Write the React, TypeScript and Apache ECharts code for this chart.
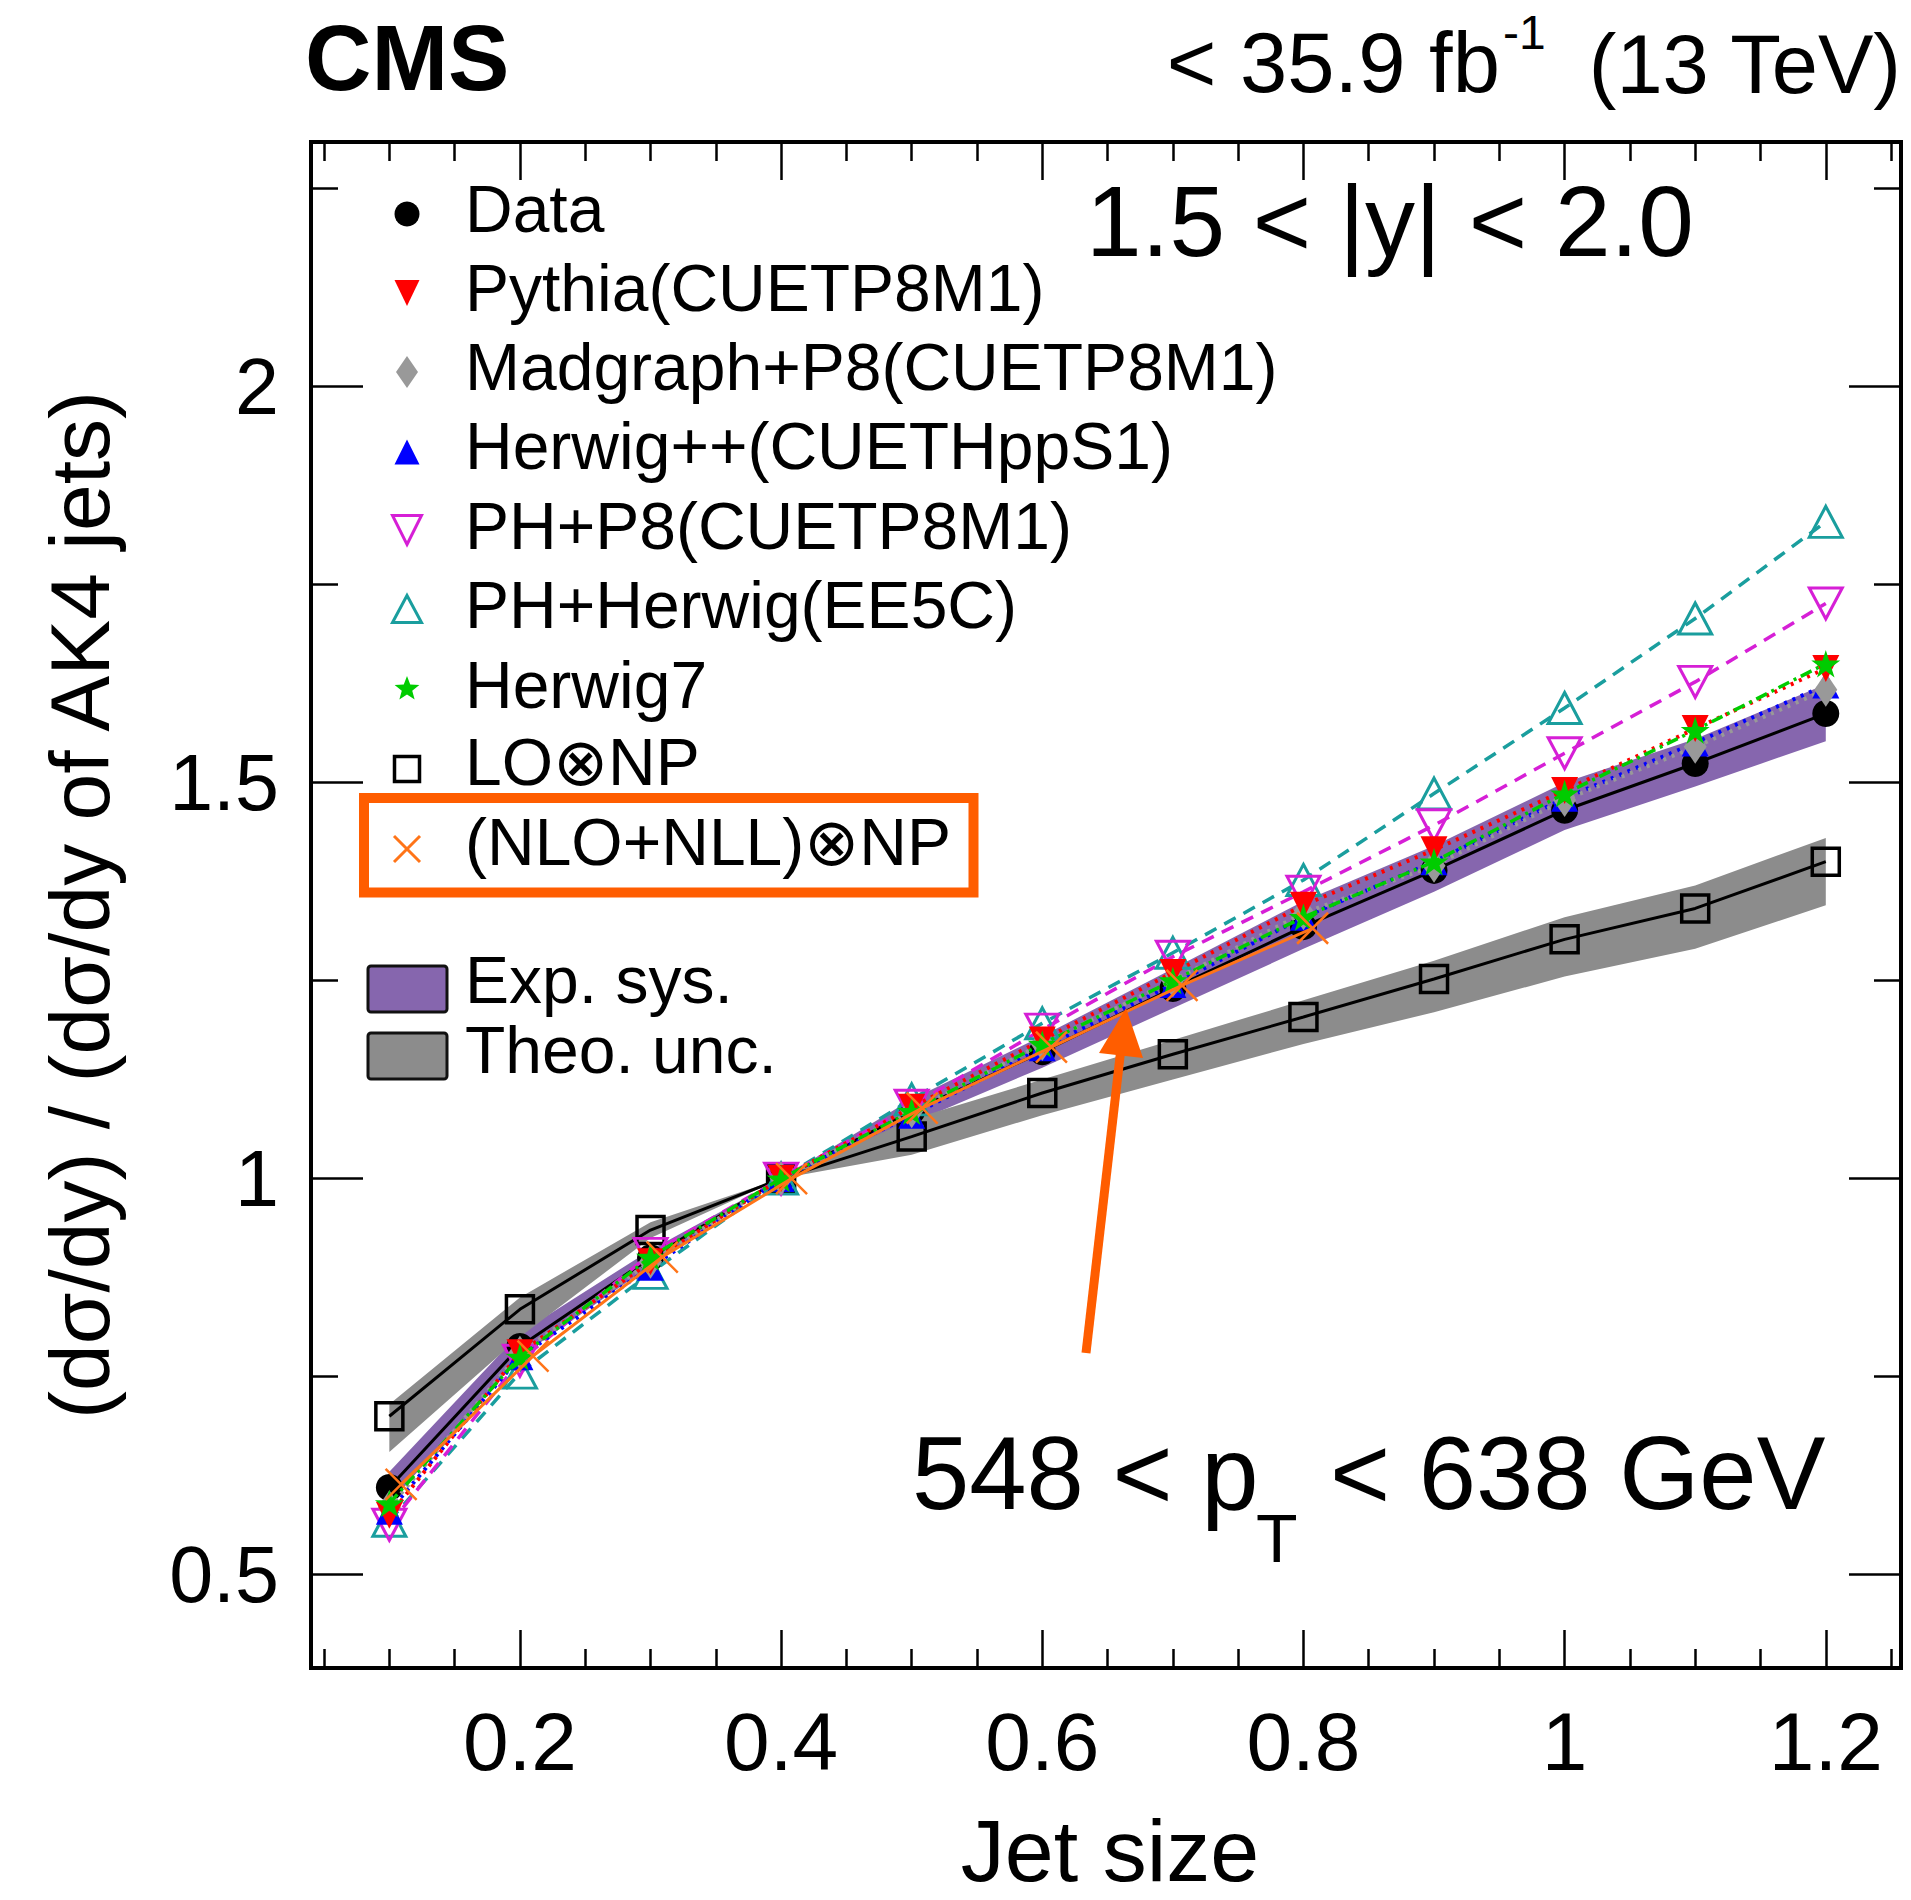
import React, { useEffect, useRef } from 'react';
import * as echarts from 'echarts';

// ---------------- data ----------------
const JET_SIZE = [0.1, 0.2, 0.3, 0.4, 0.5, 0.6, 0.7, 0.8, 0.9, 1.0, 1.1, 1.2];
const DATA = [0.610, 0.788, 0.900, 1.0, 1.085, 1.160, 1.240, 1.318, 1.389, 1.465, 1.524, 1.587];
const PYTHIA = [0.575, 0.780, 0.895, 1.0, 1.090, 1.175, 1.260, 1.345, 1.415, 1.490, 1.568, 1.644];
const MADGRAPH = [0.585, 0.780, 0.895, 1.0, 1.085, 1.170, 1.250, 1.335, 1.395, 1.478, 1.545, 1.617];
const HERWIGPP = [0.580, 0.775, 0.888, 1.0, 1.080, 1.165, 1.245, 1.330, 1.400, 1.480, 1.550, 1.623];
const PH_P8 = [0.563, 0.770, 0.905, 1.0, 1.092, 1.188, 1.280, 1.362, 1.446, 1.537, 1.627, 1.726];
const PH_HERWIG = [0.568, 0.755, 0.881, 1.0, 1.100, 1.196, 1.285, 1.377, 1.486, 1.594, 1.707, 1.829];
const HERWIG7 = [0.590, 0.775, 0.901, 1.0, 1.085, 1.170, 1.250, 1.330, 1.400, 1.486, 1.566, 1.650];
const LO_NP = [0.700, 0.835, 0.935, 1.0, 1.053, 1.108, 1.157, 1.204, 1.252, 1.302, 1.341, 1.400];
const NLO_X = [0.109, 0.21, 0.309, 0.408, 0.508, 0.607, 0.707, 0.807];
const NLO_NLL = [0.614, 0.776, 0.901, 1.0, 1.089, 1.166, 1.244, 1.316];
const EXP_LOW = [0.590, 0.775, 0.890, 1.0, 1.070, 1.140, 1.215, 1.290, 1.362, 1.440, 1.495, 1.552];
const EXP_HIGH = [0.630, 0.805, 0.910, 1.0, 1.100, 1.180, 1.265, 1.350, 1.420, 1.500, 1.555, 1.624];
const THEO_LOW = [0.655, 0.800, 0.925, 1.0, 1.030, 1.080, 1.125, 1.170, 1.210, 1.255, 1.290, 1.345];
const THEO_HIGH = [0.715, 0.850, 0.945, 1.0, 1.075, 1.125, 1.175, 1.225, 1.275, 1.330, 1.370, 1.430];

const X_MIN = 0.04;
const X_MAX = 1.2576;
const Y_MIN = 0.3822;
const Y_MAX = 2.3085;
const X_MAJOR = [0.2, 0.4, 0.6, 0.8, 1.0, 1.2];
const X_LABELS = ['0.2', '0.4', '0.6', '0.8', '1', '1.2'];
const X_MINOR = [0.05, 0.1, 0.15, 0.25, 0.3, 0.35, 0.45, 0.5, 0.55, 0.65, 0.7, 0.75, 0.85, 0.9, 0.95, 1.05, 1.1, 1.15, 1.25];
const Y_MAJOR = [0.5, 1.0, 1.5, 2.0];
const Y_LABELS = ['0.5', '1', '1.5', '2'];
const Y_MINOR = [0.75, 1.25, 1.75, 2.25];

const LEGEND_NAMES = [
  'Data',
  'Pythia(CUETP8M1)',
  'Madgraph+P8(CUETP8M1)',
  'Herwig++(CUETHppS1)',
  'PH+P8(CUETP8M1)',
  'PH+Herwig(EE5C)',
  'Herwig7',
  'LO\u2297NP',
  '(NLO+NLL)\u2297NP',
];

// ---------------- styles ----------------
const FONT = '"Liberation Sans", Arial, Helvetica, sans-serif';
const C_RED = '#ff0000';
const C_GRAY = '#999999';
const C_BLUE = '#0000ff';
const C_MAG = '#d61fd6';
const C_TEAL = '#1a9e9e';
const C_GREEN = '#00cc00';
const C_ORANGE = '#ff7418';
const C_ANNOT = '#ff5d00';
const C_PURPLE = '#8666ae';
const C_THEO = '#8c8c8c';

const STAR_PATH = 'path://M50,0 L61,35 L98,35 L68,57 L79,91 L50,70 L21,91 L32,57 L2,35 L39,35 Z';
const X_PATH = 'path://M0,0 L10,10 M10,0 L0,10';

function labelFor(values: number[], labels: string[]) {
  return (v: number) => {
    const i = values.findIndex((m) => Math.abs(m - v) < 1e-9);
    return i >= 0 ? labels[i] : '';
  };
}

function xAxisDef(pos: string, values: number[], len: number, labels?: string[]) {
  return {
    type: 'value',
    position: pos,
    min: X_MIN,
    max: X_MAX,
    axisLine: { show: false },
    splitLine: { show: false },
    axisTick: { show: true, inside: true, length: len, customValues: values, lineStyle: { color: '#000', width: 2.5 } },
    axisLabel: labels
      ? {
          show: true,
          customValues: values,
          formatter: labelFor(values, labels),
          margin: 32,
          fontSize: 82,
          fontFamily: FONT,
          color: '#000',
        }
      : { show: false },
  };
}

function yAxisDef(pos: string, values: number[], len: number, labels?: string[]) {
  return {
    type: 'value',
    position: pos,
    min: Y_MIN,
    max: Y_MAX,
    axisLine: { show: false },
    splitLine: { show: false },
    axisTick: { show: true, inside: true, length: len, customValues: values, lineStyle: { color: '#000', width: 2.5 } },
    axisLabel: labels
      ? {
          show: true,
          customValues: values,
          formatter: labelFor(values, labels),
          margin: 32,
          fontSize: 79,
          fontFamily: FONT,
          color: '#000',
        }
      : { show: false },
  };
}

function bandSeries(low: number[], high: number[], color: string, z: number) {
  return {
    type: 'custom',
    xAxisIndex: 0,
    yAxisIndex: 0,
    z,
    silent: true,
    data: JET_SIZE.map((x, i) => [x, low[i], high[i]]),
    encode: { x: 0, y: [1, 2] },
    renderItem: (params: any, api: any) => {
      if (params.dataIndex !== 0) return null;
      const pts: number[][] = [];
      for (let i = 0; i < JET_SIZE.length; i++) pts.push(api.coord([JET_SIZE[i], high[i]]));
      for (let i = JET_SIZE.length - 1; i >= 0; i--) pts.push(api.coord([JET_SIZE[i], low[i]]));
      return { type: 'polygon', shape: { points: pts }, style: { fill: color, stroke: 'none' } };
    },
  };
}

function lineSeries(
  name: string,
  xs: number[],
  ys: number[],
  opts: {
    symbol: string;
    size: number | number[];
    rotate?: number;
    fill: string;
    stroke?: string;
    strokeWidth?: number;
    lineColor: string;
    lineWidth: number;
    lineType: any;
    z: number;
  }
) {
  return {
    type: 'line',
    name,
    xAxisIndex: 0,
    yAxisIndex: 0,
    data: xs.map((x, i) => [x, ys[i]]),
    symbol: opts.symbol,
    symbolSize: opts.size,
    symbolRotate: opts.rotate || 0,
    symbolKeepAspect: true,
    showSymbol: true,
    z: opts.z,
    itemStyle: {
      color: opts.fill,
      borderColor: opts.stroke || opts.fill,
      borderWidth: opts.strokeWidth || 0,
    },
    lineStyle: { color: opts.lineColor, width: opts.lineWidth, type: opts.lineType },
    emphasis: { disabled: true },
  };
}

function starPoints(cx: number, cy: number, R: number, r: number) {
  const pts: number[][] = [];
  for (let k = 0; k < 10; k++) {
    const a = -Math.PI / 2 + (k * Math.PI) / 5;
    const rad = k % 2 === 0 ? R : r;
    pts.push([cx + rad * Math.cos(a), cy + rad * Math.sin(a)]);
  }
  return pts;
}

function tri(cx: number, cy: number, w: number, h: number, up: boolean) {
  return up
    ? [[cx, cy - h / 2], [cx + w / 2, cy + h / 2], [cx - w / 2, cy + h / 2]]
    : [[cx, cy + h / 2], [cx + w / 2, cy - h / 2], [cx - w / 2, cy - h / 2]];
}

function txt(text: string, x: number, y: number, size: number, extra: any = {}) {
  return {
    type: 'text',
    x,
    y,
    z: 100,
    ...(extra.rotation ? { rotation: extra.rotation } : {}),
    style: {
      text,
      fontSize: size,
      fontFamily: FONT,
      fontWeight: extra.bold ? 'bold' : 'normal',
      fill: '#000',
      align: extra.align || 'left',
      verticalAlign: 'middle',
    },
  };
}

export default function App() {
  const ref = useRef<HTMLDivElement>(null);

  useEffect(() => {
    if (!ref.current) return;
    const chart = echarts.init(ref.current, undefined, { renderer: 'svg' });

    const MX = 407;
    const legendRowsText = [209, 288, 367, 446, 526, 605, 685, 762, 842];
    const mk = [214, 293, 372, 452, 530, 609, 689, 769, 849];

    const graphics: any[] = [
      // header
      txt('CMS', 305, 58, 92, { bold: true }),
      txt('< 35.9 fb', 1500, 62, 85, { align: 'right' }),
      txt('-1', 1503, 32, 48),
      txt('(13 TeV)', 1901, 64, 83, { align: 'right' }),
      // in-plot labels
      txt('1.5 < |y| < 2.0', 1086, 221, 100),
      txt('548 < p', 912, 1473, 103),
      txt('T', 1256, 1538, 68),
      txt('< 638 GeV', 1330, 1473, 103),
      // axis titles
      txt('Jet size', 1110, 1850, 88, { align: 'center' }),
      txt('(d\u03c3/dy) / (d\u03c3/dy of AK4 jets)', 80, 905, 84, { align: 'center', rotation: Math.PI / 2 }),
      // legend markers
      { type: 'circle', z: 100, shape: { cx: MX, cy: mk[0], r: 12.5 }, style: { fill: '#000' } },
      { type: 'polygon', z: 100, shape: { points: tri(MX, mk[1], 25, 26, false) }, style: { fill: C_RED } },
      { type: 'polygon', z: 100, shape: { points: [[MX, mk[2] - 16], [MX + 11, mk[2]], [MX, mk[2] + 16], [MX - 11, mk[2]]] }, style: { fill: C_GRAY } },
      { type: 'polygon', z: 100, shape: { points: tri(MX, mk[3], 25, 25, true) }, style: { fill: C_BLUE } },
      { type: 'polygon', z: 100, shape: { points: tri(MX, mk[4], 29, 29, false) }, style: { fill: 'none', stroke: C_MAG, lineWidth: 3 } },
      { type: 'polygon', z: 100, shape: { points: tri(MX, mk[5], 29, 27, true) }, style: { fill: 'none', stroke: C_TEAL, lineWidth: 3 } },
      { type: 'polygon', z: 100, shape: { points: starPoints(MX, mk[6], 13, 5.5) }, style: { fill: C_GREEN } },
      { type: 'rect', z: 100, shape: { x: MX - 12.5, y: mk[7] - 12.5, width: 25, height: 25 }, style: { fill: 'none', stroke: '#000', lineWidth: 3.5 } },
      { type: 'line', z: 100, shape: { x1: MX - 13, y1: mk[8] - 13, x2: MX + 13, y2: mk[8] + 13 }, style: { stroke: C_ORANGE, lineWidth: 3 } },
      { type: 'line', z: 100, shape: { x1: MX + 13, y1: mk[8] - 13, x2: MX - 13, y2: mk[8] + 13 }, style: { stroke: C_ORANGE, lineWidth: 3 } },
      // highlight box
      { type: 'rect', z: 100, shape: { x: 364, y: 798, width: 609.5, height: 94.5 }, style: { fill: 'none', stroke: C_ANNOT, lineWidth: 10 } },
      // band legend
      { type: 'rect', z: 100, shape: { x: 368, y: 966, width: 79, height: 46, r: 3 }, style: { fill: C_PURPLE, stroke: '#111', lineWidth: 3 } },
      { type: 'rect', z: 100, shape: { x: 368, y: 1033, width: 79, height: 46, r: 3 }, style: { fill: C_THEO, stroke: '#111', lineWidth: 3 } },
      txt('Exp. sys.', 465, 980, 66),
      txt('Theo. unc.', 465, 1050, 66),
      // arrow
      { type: 'line', z: 100, shape: { x1: 1086, y1: 1353, x2: 1121, y2: 1048 }, style: { stroke: C_ANNOT, lineWidth: 9 } },
      { type: 'polygon', z: 100, shape: { points: [[1126, 1008], [1099, 1053], [1143, 1058]] }, style: { fill: C_ANNOT } },
    ];
    LEGEND_NAMES.forEach((n, i) => graphics.push(txt(n, 465, legendRowsText[i], 66)));

    const option: any = {
      animation: false,
      backgroundColor: '#ffffff',
      grid: {
        left: 311,
        right: 10,
        top: 142,
        bottom: 232,
        show: true,
        borderColor: '#000',
        borderWidth: 4,
        backgroundColor: 'transparent',
        containLabel: false,
        outerBoundsMode: 'none',
      },
      xAxis: [
        xAxisDef('bottom', X_MAJOR, 38, X_LABELS),
        xAxisDef('bottom', X_MINOR, 19),
        xAxisDef('top', X_MAJOR, 38),
        xAxisDef('top', X_MINOR, 19),
      ],
      yAxis: [
        yAxisDef('left', Y_MAJOR, 52, Y_LABELS),
        yAxisDef('left', Y_MINOR, 27),
        yAxisDef('right', Y_MAJOR, 52),
        yAxisDef('right', Y_MINOR, 27),
      ],
      series: [
        bandSeries(EXP_LOW, EXP_HIGH, C_PURPLE, 1),
        bandSeries(THEO_LOW, THEO_HIGH, C_THEO, 1),
        lineSeries('LO\u2297NP', JET_SIZE, LO_NP, {
          symbol: 'rect', size: 27, fill: 'rgba(0,0,0,0)', stroke: '#000', strokeWidth: 3.5,
          lineColor: '#000', lineWidth: 3, lineType: 'solid', z: 3,
        }),
        lineSeries('Data', JET_SIZE, DATA, {
          symbol: 'circle', size: 27, fill: '#000',
          lineColor: '#000', lineWidth: 3, lineType: 'solid', z: 4,
        }),
        lineSeries('PH+Herwig(EE5C)', JET_SIZE, PH_HERWIG, {
          symbol: 'triangle', size: [33, 31], fill: 'rgba(0,0,0,0)', stroke: C_TEAL, strokeWidth: 3,
          lineColor: C_TEAL, lineWidth: 3.5, lineType: [13, 9], z: 5,
        }),
        lineSeries('PH+P8(CUETP8M1)', JET_SIZE, PH_P8, {
          symbol: 'triangle', size: [33, 31], rotate: 180, fill: 'rgba(0,0,0,0)', stroke: C_MAG, strokeWidth: 3,
          lineColor: C_MAG, lineWidth: 3.5, lineType: [13, 9], z: 5,
        }),
        lineSeries('Herwig++(CUETHppS1)', JET_SIZE, HERWIGPP, {
          symbol: 'triangle', size: 27, fill: C_BLUE,
          lineColor: C_BLUE, lineWidth: 4, lineType: [3, 6], z: 5,
        }),
        lineSeries('Madgraph+P8(CUETP8M1)', JET_SIZE, MADGRAPH, {
          symbol: 'diamond', size: [23, 34], fill: C_GRAY,
          lineColor: C_GRAY, lineWidth: 4, lineType: [3, 6], z: 5,
        }),
        lineSeries('Pythia(CUETP8M1)', JET_SIZE, PYTHIA, {
          symbol: 'triangle', size: 27, rotate: 180, fill: C_RED,
          lineColor: C_RED, lineWidth: 4, lineType: [3, 6], z: 6,
        }),
        lineSeries('Herwig7', JET_SIZE, HERWIG7, {
          symbol: STAR_PATH, size: 29, fill: C_GREEN,
          lineColor: C_GREEN, lineWidth: 3.5, lineType: [12, 5, 3, 5], z: 7,
        }),
        lineSeries('(NLO+NLL)\u2297NP', NLO_X, NLO_NLL, {
          symbol: X_PATH, size: 31, fill: 'rgba(0,0,0,0)', stroke: C_ORANGE, strokeWidth: 2.5,
          lineColor: C_ORANGE, lineWidth: 3, lineType: 'solid', z: 8,
        }),
      ],
      graphic: { elements: graphics },
    };

    chart.setOption(option);
    return () => chart.dispose();
  }, []);

  return (
    <div
      ref={ref}
      style={{ position: 'absolute', left: 0, top: 0, width: 1911, height: 1900, background: '#fff' }}
    />
  );
}
